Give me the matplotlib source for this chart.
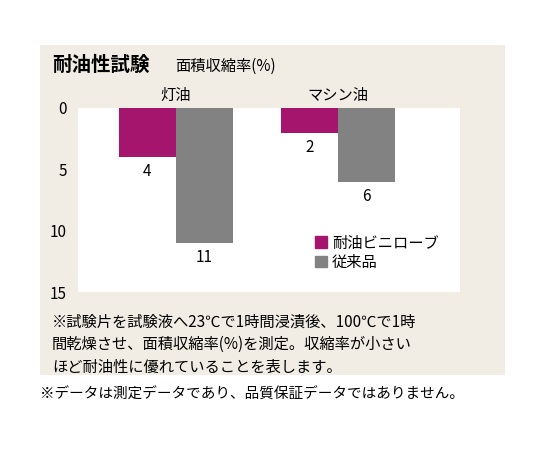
import matplotlib
matplotlib.use("Agg")
import matplotlib.pyplot as plt
from matplotlib.patches import Rectangle, Patch

plt.rcParams['font.family'] = ['Noto Sans CJK JP', 'DejaVu Sans']

groups = ["灯油", "マシン油"]
series = ["耐油ビニローブ", "従来品"]
vinyl = [4, 2]
conv = [11, 6]
yticks = [0, 5, 10, 15]
colors = ["#a5156d", "#828282"]

fig = plt.figure(figsize=(5.4, 4.5), dpi=100)
fig.patches.append(Rectangle((0.074, 0.167), 0.861, 0.733, transform=fig.transFigure,
                             facecolor="#f1ede4", edgecolor="none", zorder=-5))
fig.text(0.096, 0.855, "耐油性試験", fontsize=14, fontweight="bold", va="center")
fig.text(0.325, 0.853, "面積収縮率(%)", fontsize=11, va="center")

ax = fig.add_axes([0.144, 0.351, 0.708, 0.409])
ax.set_zorder(2)
ax.set_facecolor("white")
w = 0.35
x = list(range(len(groups)))
b1 = ax.bar([i - w/2 for i in x], vinyl, w, color=colors[0], label=series[0])
b2 = ax.bar([i + w/2 for i in x], conv, w, color=colors[1], label=series[1])
for bars, vals in ((b1, vinyl), (b2, conv)):
    for r, v in zip(bars, vals):
        ax.text(r.get_x() + r.get_width()/2, v + 0.5, str(v), ha="center", va="top", fontsize=11)
for i, g in enumerate(groups):
    ax.text(i, -0.3, g, ha="center", va="bottom", fontsize=11, clip_on=False)
ax.set_xlim(-0.604, 1.752)
ax.set_ylim(15, 0)
ax.set_yticks(yticks)
ax.set_xticks([])
ax.tick_params(axis="y", length=0, labelsize=11, pad=8)
for s in ax.spines.values():
    s.set_visible(False)
ax.legend(handles=[Patch(color=colors[0], label=series[0]), Patch(color=colors[1], label=series[1])],
          loc="lower right", bbox_to_anchor=(0.98, 0.04), frameon=False, fontsize=11,
          handlelength=0.8, handleheight=0.8, handletextpad=0.3, labelspacing=0.15)

notes = ["※試験片を試験液へ23℃で1時間浸漬後、100℃で1時",
         "間乾燥させ、面積収縮率(%)を測定。収縮率が小さい",
         "ほど耐油性に優れていることを表します。"]
for k, n in enumerate(notes):
    fig.text(0.096, 0.284 - k*0.05, n, fontsize=11, va="center")
fig.text(0.074, 0.122, "※データは測定データであり、品質保証データではありません。", fontsize=10.5, va="center")
fig.savefig("out.png", dpi=100)
